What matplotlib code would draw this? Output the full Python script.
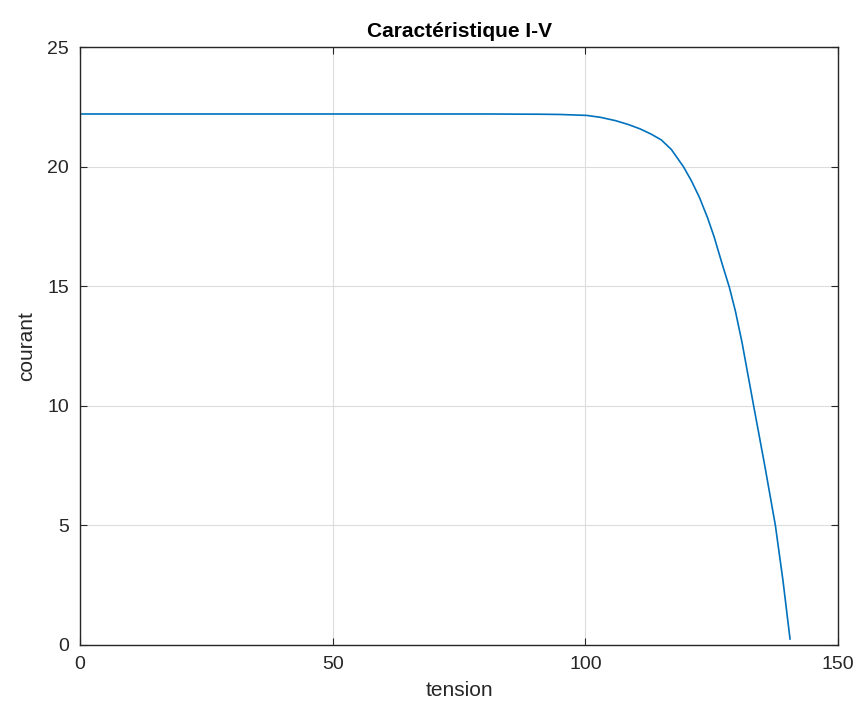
import matplotlib.pyplot as plt

# Values (tension in V, courant in A)
tension = [0, 50, 80, 91, 95, 100.3, 103.0, 106.0, 108.5, 110.8,
           113.0, 115.0, 117.0, 119.4, 121.0, 122.6, 124.2, 125.5,
           127.0, 128.5, 129.7, 131.0, 133.3, 135.5, 137.6, 139.1,
           140.5]
courant = [22.2, 22.2, 22.2, 22.19, 22.18, 22.14, 22.06, 21.92, 21.76, 21.58,
           21.36, 21.12, 20.72, 20.0, 19.4, 18.7, 17.85, 17.05,
           15.98, 14.95, 13.95, 12.65, 10.0, 7.5, 5.0, 2.7,
           0.25]

x_ticks = [0, 50, 100, 150]
y_ticks = [0, 5, 10, 15, 20, 25]

plt.rcParams['font.family'] = ['Liberation Sans', 'DejaVu Sans']

fig = plt.figure(figsize=(8.59, 7.2), dpi=100)
ax = fig.add_axes([0.0931, 0.1042, 0.8825, 0.8305])

ax.plot(tension, courant, '-', color='#0072BD', linewidth=1.2)

ax.set_xlim(0, 150)
ax.set_ylim(0, 25)
ax.set_xticks(x_ticks)
ax.set_yticks(y_ticks)
ax.grid(True, color='#dcdcdc', linewidth=0.8)
ax.set_axisbelow(True)

# MATLAB-like box with inward ticks on all sides
ax.tick_params(direction='in', top=True, right=True, length=5,
               labelsize=14, colors='#262626', pad=8)
for side in ax.spines.values():
    side.set_color('#262626')
    side.set_linewidth(1.0)

ax.set_xlabel('tension', fontsize=15, color='#262626', labelpad=6)
ax.set_ylabel('courant', fontsize=15, color='#262626', labelpad=8)
ax.set_title('Caractéristique I-V', fontsize=15, fontweight='bold', pad=7)

plt.savefig('out.png')
plt.close()
